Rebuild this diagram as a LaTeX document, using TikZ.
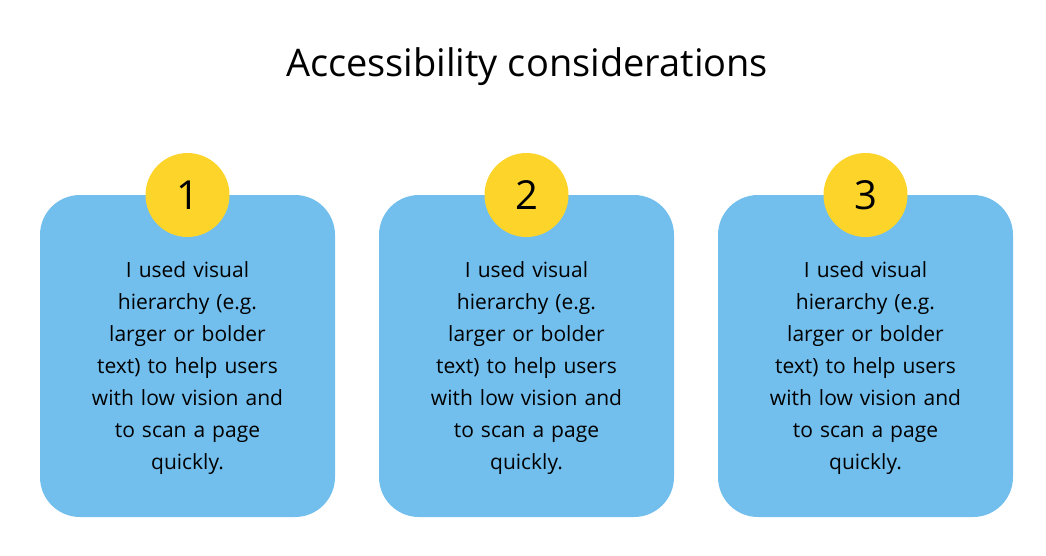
\documentclass[tikz,border=0pt]{standalone}
\usepackage{fontspec}
\setmainfont{Open Sans}
\definecolor{boxblue}{HTML}{72BFEE}
\definecolor{numyellow}{HTML}{FDD52A}
\begin{document}
\begin{tikzpicture}[x=1pt,y=-1pt,
  card/.style={fill=boxblue,rounded corners=40pt,minimum width=295pt,minimum height=322pt,inner sep=0pt},
  badge/.style={circle,fill=numyellow,minimum size=84pt,inner sep=0pt,font=\fontsize{40}{40}\selectfont},
  body/.style={align=center,text width=250pt,font=\fontsize{21}{32}\selectfont}]
\useasboundingbox (0,0) rectangle (1046,555);
\node[font=\fontsize{38}{40}\selectfont] (title) at (527,67) {Accessibility considerations};
\foreach \i/\x in {1/187.5,2/526.5,3/865.5}{
  \node[card] (c\i) at (\x,356) {};
  \node[badge] (n\i) at (\x,195) {\i};
  \node[body] (t\i) at (\x,368) {I used visual\\hierarchy (e.g.\\larger or bolder\\text) to help users\\with low vision and\\to scan a page\\quickly.};
}
\end{tikzpicture}
\end{document}
